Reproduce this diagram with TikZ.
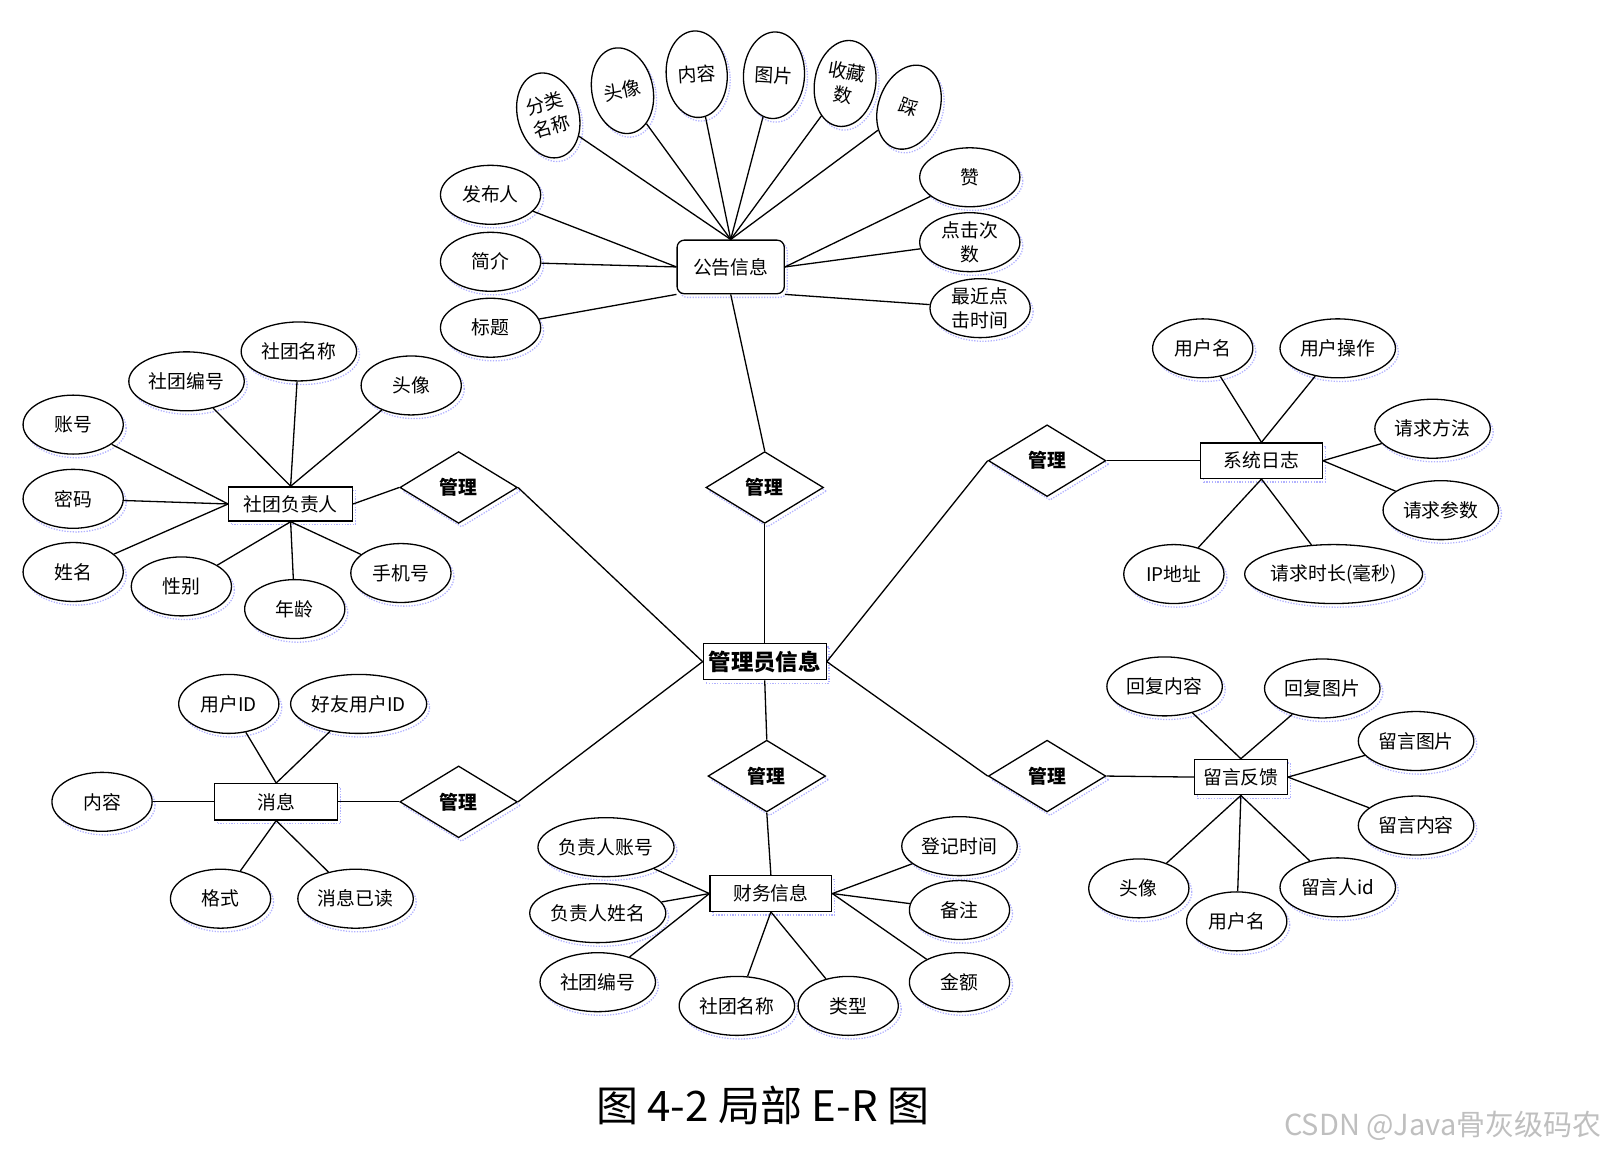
\documentclass[tikz,border=0pt]{standalone}
\usepackage{fontspec}
\usepackage{xcolor}
\usepackage{tikz}
\usetikzlibrary{shapes.geometric,shadows}
\newfontfamily\cjk{Noto Sans CJK SC}

\begin{document}
\begin{tikzpicture}[
  x=0.025cm, y=-0.025cm, line width=0.9pt,
  every node/.style={font=\cjk\fontsize{13}{16.5}\selectfont},
  dotshadow/.style={general shadow={draw=blue!30, densely dotted, line width=0.9pt,
    shadow xshift=2pt, shadow yshift=-2.5pt}},
  attr/.style={draw, ellipse, fill=white, inner sep=0pt, line width=0.9pt,
    minimum width=#1, minimum height=1.43cm, align=center, dotshadow},
  attr/.default=2.43cm,
  tall/.style={draw, ellipse, fill=white, inner sep=0pt, line width=0.9pt,
    minimum width=1.48cm, minimum height=2.1cm, align=center, dotshadow},
  box/.style={draw, rectangle, fill=white, inner sep=0pt, line width=0.9pt,
    minimum width=#1, minimum height=0.86cm, dotshadow},
  box/.default=2.95cm,
  rel/.style={draw, diamond, fill=white, inner sep=0pt, line width=0.9pt,
    minimum width=2.85cm, minimum height=1.74cm,
    font=\cjk\bfseries\fontsize{13}{16}\selectfont, dotshadow}
]
  \useasboundingbox (0,0) rectangle (1568,1120);

  % centre entity and relations
  \node[box=2.98cm, minimum height=0.88cm,
    font=\cjk\bfseries\fontsize{15.5}{18}\selectfont] (gly) at (742,642) {管理员信息};
  \node[rel] (m1) at (742,473)  {管理};
  \node[rel] (m2) at (445,473)  {管理};
  \node[rel] (m3) at (445,778)  {管理};
  \node[rel] (m4) at (744,753)  {管理};
  \node[rel] (m5) at (1016,447) {管理};
  \node[rel] (m6) at (1016,753) {管理};

  % 公告信息
  \node[box=2.6cm, minimum height=1.3cm, rounded corners=5pt] (gg) at (709,259) {公告信息};
  \node[tall, rotate=16]  (fl)   at (532,112) {分类\\名称};
  \node[tall, rotate=12]  (tx1)  at (604,88)  {头像};
  \node[tall, rotate=4]   (nr1)  at (676,72)  {内容};
  \node[tall, rotate=-3]  (tp)   at (751,73)  {图片};
  \node[tall, rotate=-10] (sc)   at (820,81)  {收藏\\数};
  \node[tall, rotate=-20] (cai)  at (882,104) {踩};
  \node[attr] (fbr)  at (476,189) {发布人};
  \node[attr] (jj)   at (476,254) {简介};
  \node[attr] (bt)   at (476,318) {标题};
  \node[attr] (zan)  at (941,172) {赞};
  \node[attr] (djcs) at (941,235) {点击次\\数};
  \node[attr] (zjsj) at (951,299) {最近点\\击时间};

  % 社团负责人
  \node[box=3.0cm, minimum height=0.83cm] (fz) at (282,489) {社团负责人};
  \node[attr] (zh)   at (71,412)  {账号};
  \node[attr] (mm)   at (71,484)  {密码};
  \node[attr] (xm)   at (71,555)  {姓名};
  \node[attr] (xb)   at (176,569) {性别};
  \node[attr] (nl)   at (286,591) {年龄};
  \node[attr] (sjh)  at (389,556) {手机号};
  \node[attr=2.8cm] (stbh1) at (181,370) {社团编号};
  \node[attr=2.8cm] (stmc1) at (290,341) {社团名称};
  \node[attr] (tx2)  at (399,374) {头像};

  % 系统日志
  \node[box] (xt) at (1224,447) {系统日志};
  \node[attr] (yhm1) at (1167,338) {用户名};
  \node[attr=2.8cm] (yhcz) at (1298,338) {用户操作};
  \node[attr=2.8cm] (qqff) at (1390,416) {请求方法};
  \node[attr=2.8cm] (qqcs) at (1398,495) {请求参数};
  \node[attr] (ip)   at (1139,557) {IP地址};
  \node[attr=4.2cm] (qqsc) at (1294,557) {请求时长(毫秒)};

  % 留言反馈
  \node[box=2.25cm] (ly) at (1204,754) {留言反馈};
  \node[attr=2.8cm] (hfnr) at (1130,666) {回复内容};
  \node[attr=2.8cm] (hftp) at (1283,668) {回复图片};
  \node[attr=2.8cm] (lytp) at (1374,719) {留言图片};
  \node[attr=2.8cm] (lynr) at (1374,801) {留言内容};
  \node[attr] (tx3)  at (1105,862) {头像};
  \node[attr] (yhm2) at (1200,894) {用户名};
  \node[attr=2.8cm] (lyr) at (1298,861) {留言人id};

  % 消息
  \node[box=2.98cm, minimum height=0.88cm] (xx) at (268,778) {消息};
  \node[attr] (yhid) at (222,683) {用户ID};
  \node[attr=3.3cm] (hyid) at (348,683) {好友用户ID};
  \node[attr] (nr2)  at (99,778)  {内容};
  \node[attr] (gs)   at (214,872) {格式};
  \node[attr=2.8cm] (xxyd) at (345,872) {消息已读};

  % 财务信息
  \node[box] (cw) at (748,867) {财务信息};
  \node[attr=3.3cm] (fzrzh) at (588,822) {负责人账号};
  \node[attr=3.3cm] (fzrxm) at (580,886) {负责人姓名};
  \node[attr=2.8cm] (stbh2) at (580,953) {社团编号};
  \node[attr=2.8cm] (stmc2) at (715,976) {社团名称};
  \node[attr] (lx)   at (823,976) {类型};
  \node[attr=2.8cm] (djsj) at (931,821) {登记时间};
  \node[attr] (bz)   at (931,883) {备注};
  \node[attr] (je)   at (931,953) {金额};

  \draw (gly.north) -- (m1.south);
  \draw (m1.north) -- (gg.south);
  \draw (gly.west) -- (m2.east);
  \draw (m2.west) -- (fz.east);
  \draw (gly.west) -- (m3.east);
  \draw (m3.west) -- (xx.east);
  \draw (gly.south) -- (m4.north);
  \draw (m4.south) -- (cw.north);
  \draw (gly.east) -- (m5.west);
  \draw (m5.east) -- (xt.west);
  \draw (gly.east) -- (m6.west);
  \draw (m6.east) -- (ly.west);

  \draw (fl) -- (gg.north);
  \draw (tx1) -- (gg.north);
  \draw (nr1) -- (gg.north);
  \draw (tp) -- (gg.north);
  \draw (sc) -- (gg.north);
  \draw (cai) -- (gg.north);
  \draw (fbr) -- (gg.west);
  \draw (jj) -- (gg.west);
  \draw (bt) -- (gg.south west);
  \draw (zan) -- (gg.east);
  \draw (djcs) -- (gg.east);
  \draw (zjsj) -- (gg.south east);

  \draw (zh) -- (fz.west);
  \draw (mm) -- (fz.west);
  \draw (xm) -- (fz.west);
  \draw (stbh1) -- (fz.north);
  \draw (stmc1) -- (fz.north);
  \draw (tx2) -- (fz.north);
  \draw (xb) -- (fz.south);
  \draw (nl) -- (fz.south);
  \draw (sjh) -- (fz.south);

  \draw (yhm1) -- (xt.north);
  \draw (yhcz) -- (xt.north);
  \draw (qqff) -- (xt.east);
  \draw (qqcs) -- (xt.east);
  \draw (ip) -- (xt.south);
  \draw (qqsc) -- (xt.south);

  \draw (hfnr) -- (ly.north);
  \draw (hftp) -- (ly.north);
  \draw (lytp) -- (ly.east);
  \draw (lynr) -- (ly.east);
  \draw (tx3) -- (ly.south);
  \draw (yhm2) -- (ly.south);
  \draw (lyr) -- (ly.south);

  \draw (yhid) -- (xx.north);
  \draw (hyid) -- (xx.north);
  \draw (nr2) -- (xx.west);
  \draw (gs) -- (xx.south);
  \draw (xxyd) -- (xx.south);

  \draw (fzrzh) -- (cw.west);
  \draw (fzrxm) -- (cw.west);
  \draw (stbh2) -- (cw.west);
  \draw (stmc2) -- (cw.south);
  \draw (lx) -- (cw.south);
  \draw (djsj) -- (cw.east);
  \draw (bz) -- (cw.east);
  \draw (je) -- (cw.east);

  \node[font=\cjk\fontsize{29}{32}\selectfont] (ttl) at (740,1073) {图 4-2 局部 E-R 图};
  \node[font=\cjk\fontsize{20}{23}\selectfont, text=black!25] (wm) at (1400,1092) {CSDN @Java骨灰级码农};
\end{tikzpicture}
\end{document}
